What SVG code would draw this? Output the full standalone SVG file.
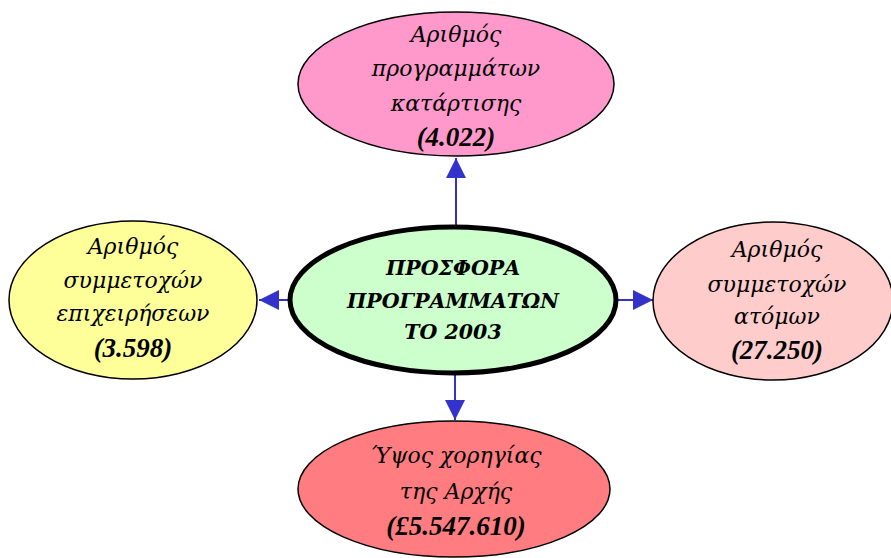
<svg xmlns="http://www.w3.org/2000/svg" width="891" height="558" viewBox="0 0 891 558">
<style>
.n{stroke:#000;stroke-width:1.5}
.t{font-family:"DejaVu Serif",serif;font-style:italic;font-size:22px;text-anchor:middle;fill:#000}
.b{font-family:"Liberation Serif",serif;font-weight:bold;font-size:27px}
.c{font-family:"DejaVu Serif",serif;font-style:italic;font-weight:bold;font-size:20.5px;text-anchor:middle;fill:#000}
.e{stroke:#3333CC;stroke-width:2;fill:none}
</style>
<rect width="891" height="558" fill="#fff"/>
<g id="connectors">
<line class="e" x1="456" y1="226" x2="456" y2="158"/>
<path d="M456,158 L446,178 L466,178 z" fill="#3333CC"/>
<line class="e" x1="289" y1="300" x2="259" y2="300"/>
<path d="M259,300 L279,290 L279,310 z" fill="#3333CC"/>
<line class="e" x1="618" y1="300" x2="653" y2="300"/>
<path d="M653,300 L633,290 L633,310 z" fill="#3333CC"/>
<line class="e" x1="455" y1="374" x2="455" y2="420"/>
<path d="M455,420 L445,400 L465,400 z" fill="#3333CC"/>
</g>
<g id="top">
<ellipse class="n" cx="456" cy="84" rx="158" ry="72" fill="#FF99CC"/>
<text class="t" x="456" y="42">Αριθμός</text>
<text class="t" x="456" y="76">προγραμμάτων</text>
<text class="t" x="456" y="111">κατάρτισης</text>
<text class="t b" x="456" y="146">(4.022)</text>
</g>
<g id="center">
<ellipse cx="453" cy="300" rx="163" ry="73" fill="#CCFFCC" stroke="#000" stroke-width="5"/>
<text class="c" x="453" y="275">ΠΡΟΣΦΟΡΑ</text>
<text class="c" x="453" y="308">ΠΡΟΓΡΑΜΜΑΤΩΝ</text>
<text class="c" x="453" y="339">ΤΟ 2003</text>
</g>
<g id="left">
<ellipse class="n" cx="133" cy="300" rx="124" ry="79" fill="#FFFF99"/>
<text class="t" x="133" y="254">Αριθμός</text>
<text class="t" x="133" y="288">συμμετοχών</text>
<text class="t" x="133" y="321">επιχειρήσεων</text>
<text class="t b" x="133" y="357">(3.598)</text>
</g>
<g id="right">
<ellipse class="n" cx="773" cy="301" rx="120" ry="79" fill="#FFCCCC"/>
<text class="t" x="777" y="257">Αριθμός</text>
<text class="t" x="777" y="292">συμμετοχών</text>
<text class="t" x="777" y="324">ατόμων</text>
<text class="t b" x="777" y="359">(27.250)</text>
</g>
<g id="bottom">
<ellipse class="n" cx="454" cy="489" rx="156" ry="68" fill="#FF7C80"/>
<text class="t" x="456" y="463">Ύψος χορηγίας</text>
<text class="t" x="456" y="499">της Αρχής</text>
<text class="t b" x="456" y="535">(£5.547.610)</text>
</g>
</svg>
